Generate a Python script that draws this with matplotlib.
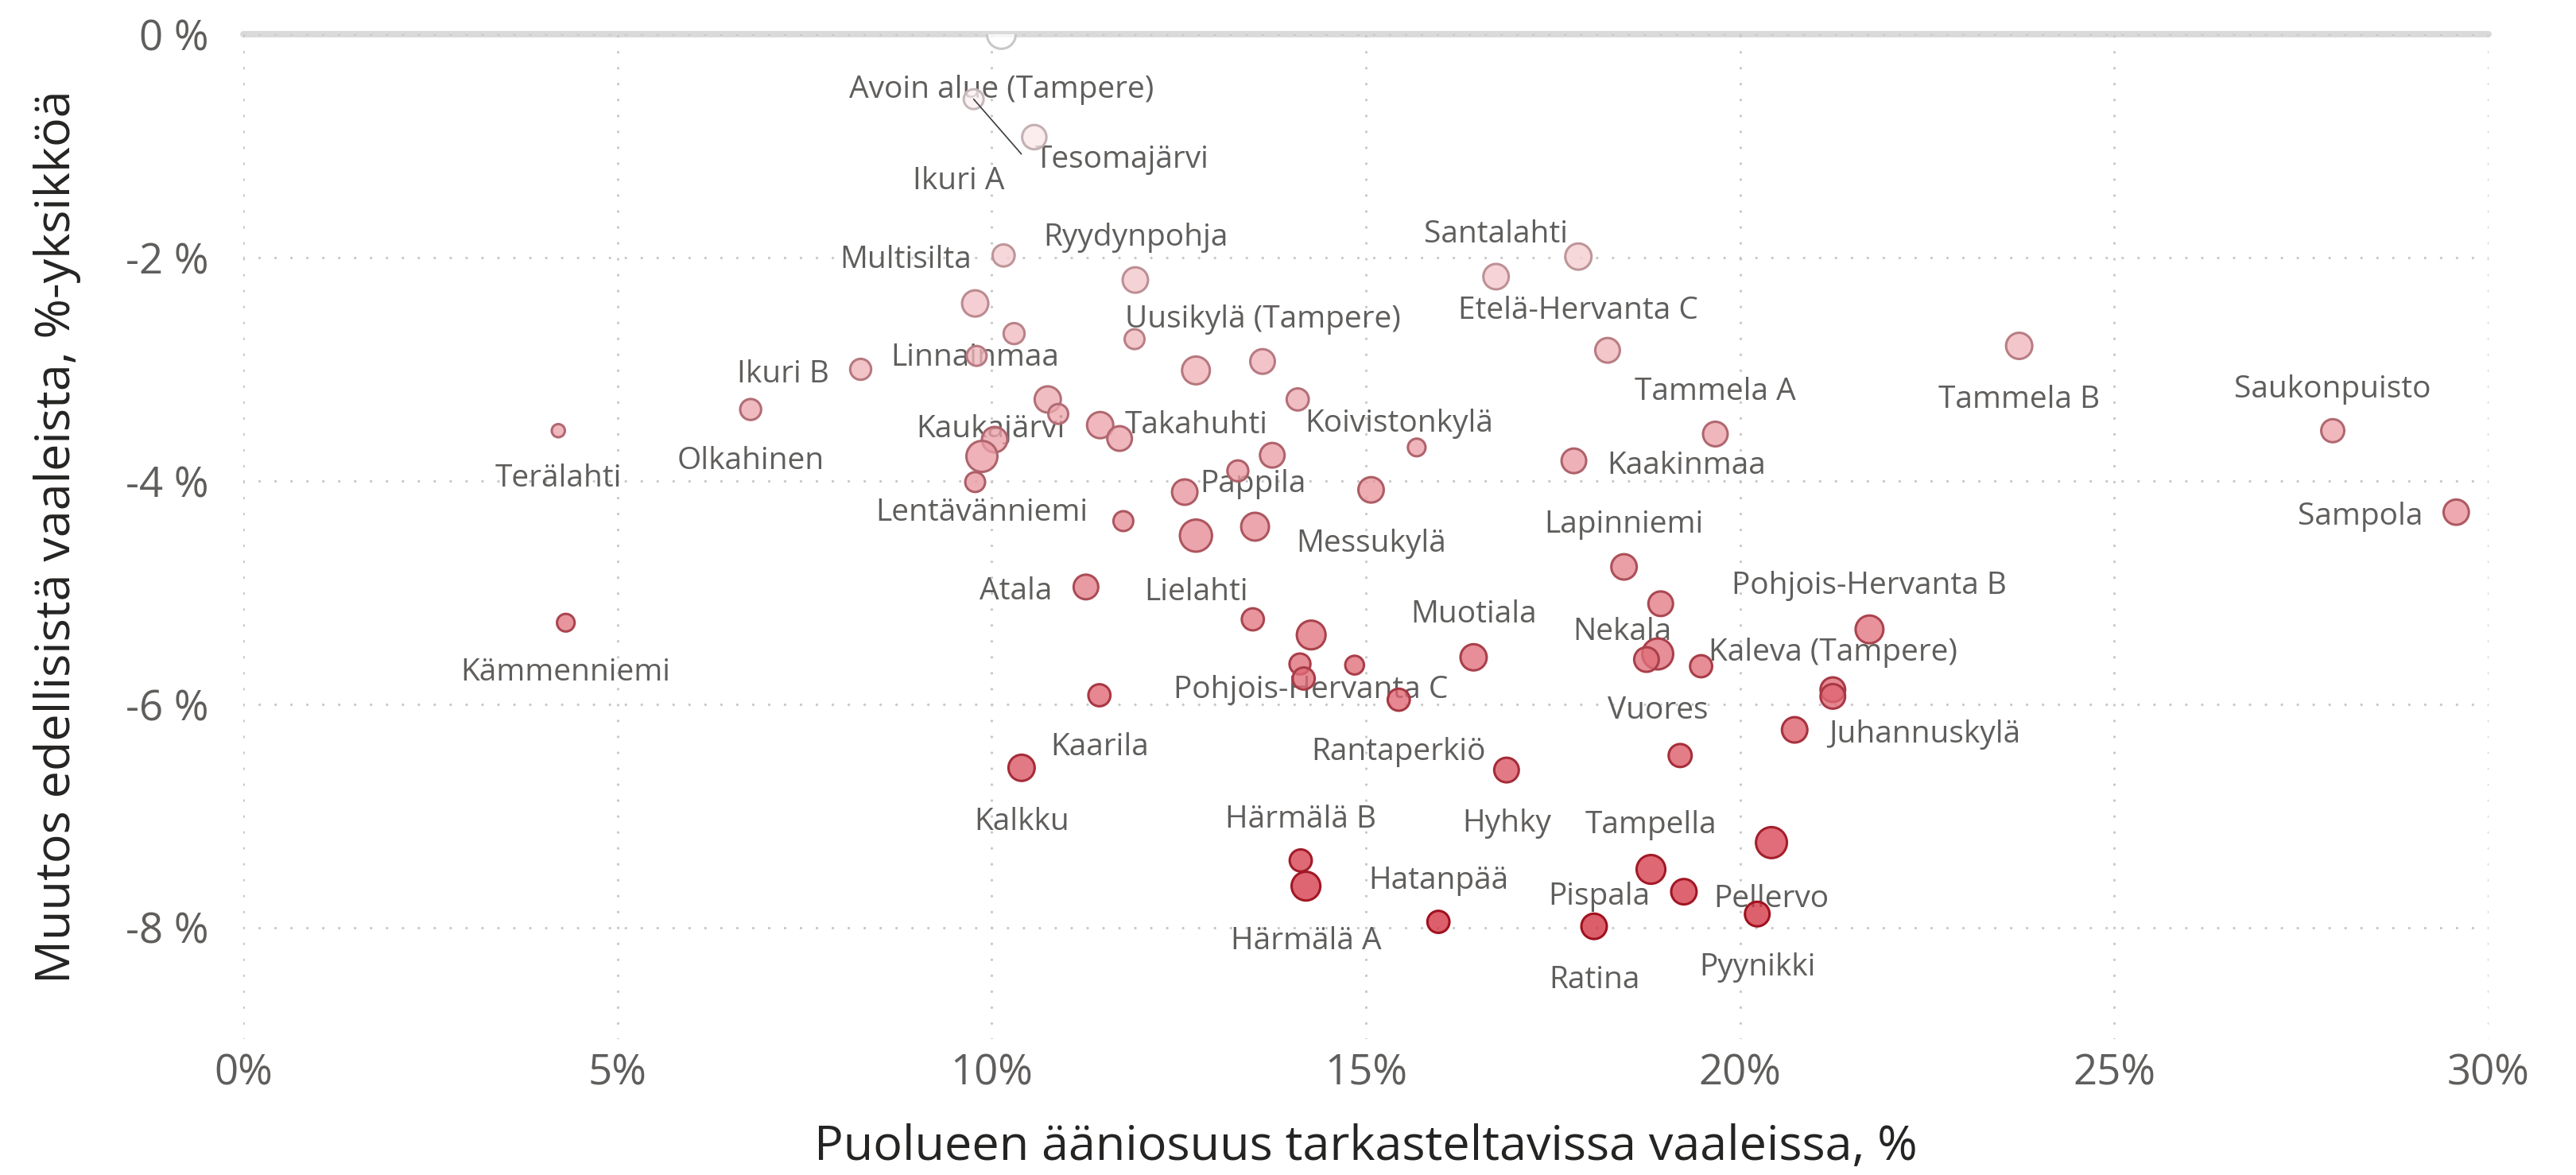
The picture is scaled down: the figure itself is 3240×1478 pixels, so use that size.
import numpy as np
import matplotlib
matplotlib.use("Agg")
import matplotlib.pyplot as plt
from matplotlib.colors import LinearSegmentedColormap, to_rgb

plt.rcParams['font.family'] = ['Open Sans', 'DejaVu Sans']
plt.rcParams['lines.scale_dashes'] = False

# aanestysalueet (tyhja = nimea ei nayteta)
alueet = [
    "Avoin alue (Tampere)", "Ikuri A", "Tesomajärvi", "Multisilta", "Linnainmaa",
    "", "", "Ikuri B", "Olkahinen", "Terälahti",
    "", "", "Kaukajärvi", "Lentävänniemi", "",
    "Ryydynpohja", "Santalahti", "Etelä-Hervanta C", "", "Takahuhti",
    "Uusikylä (Tampere)", "", "", "", "",
    "Koivistonkylä", "Tammela A", "Kaakinmaa", "", "",
    "Pappila", "Messukylä", "", "Lielahti", "",
    "Tammela B", "Saukonpuisto", "Sampola", "Lapinniemi", "Atala",
    "", "Pohjois-Hervanta B", "", "Pohjois-Hervanta C", "Muotiala",
    "", "", "", "Rantaperkiö", "Vuores",
    "Nekala", "", "Kaleva (Tampere)", "", "Juhannuskylä",
    "Kaarila", "", "Hyhky", "Kalkku", "Kämmenniemi",
    "Härmälä B", "Härmälä A", "Hatanpää", "Ratina", "Tampella",
    "Pispala", "Pyynikki", "Pellervo",
]

# puolueen aaniosuus, %
aaniosuus = [
    10.13, 9.76, 10.57, 10.16, 9.78,
    10.30, 9.80, 8.25, 6.78, 4.21,
    10.75, 10.89, 10.04, 9.87, 9.78,
    11.92, 16.74, 17.84, 11.91, 12.73,
    13.62, 18.23, 11.45, 11.71, 14.09,
    15.68, 19.67, 17.78, 13.75, 13.29,
    12.58, 15.07, 11.76, 12.73, 13.52,
    23.73, 27.92, 29.57, 18.45, 11.26,
    18.94, 21.73, 13.49, 14.27, 16.44,
    14.12, 14.17, 14.85, 15.44, 18.90,
    18.75, 19.48, 21.24, 21.24, 20.73,
    11.44, 19.20, 16.88, 10.40, 4.31,
    14.13, 14.20, 15.97, 18.05, 18.81,
    19.25, 20.23, 20.42,
]

# muutos edellisista vaaleista, %-yksikkoa
muutos = [
    0.00, -0.58, -0.92, -1.98, -2.41,
    -2.68, -2.88, -3.00, -3.36, -3.55,
    -3.27, -3.40, -3.63, -3.78, -4.01,
    -2.20, -2.17, -1.99, -2.73, -3.01,
    -2.93, -2.83, -3.50, -3.62, -3.27,
    -3.70, -3.58, -3.82, -3.77, -3.91,
    -4.10, -4.08, -4.36, -4.49, -4.41,
    -2.79, -3.55, -4.28, -4.77, -4.95,
    -5.10, -5.33, -5.24, -5.38, -5.58,
    -5.64, -5.77, -5.65, -5.96, -5.55,
    -5.60, -5.66, -5.87, -5.93, -6.23,
    -5.92, -6.46, -6.59, -6.57, -5.27,
    -7.40, -7.63, -7.95, -7.99, -7.48,
    -7.68, -7.88, -7.24,
]

# kuplan koko (suhteellinen)
koko = [
    384, 196, 282, 237, 324,
    216, 196, 216, 216, 96,
    324, 196, 306, 441, 196,
    306, 306, 324, 196, 361,
    289, 289, 324, 289, 237,
    159, 289, 289, 289, 216,
    306, 306, 196, 471, 361,
    324, 256, 303, 306, 289,
    289, 361, 237, 384, 324,
    216, 237, 177, 237, 441,
    289, 237, 289, 289, 306,
    237, 256, 289, 324, 159,
    237, 384, 237, 306, 384,
    306, 289, 441,
]

x_ticks = [0, 5, 10, 15, 20, 25, 30]
x_tick_labels = ["0%", "5%", "10%", "15%", "20%", "25%", "30%"]
y_ticks = [0, -2, -4, -6, -8]
y_tick_labels = ["0 %", "-2 %", "-4 %", "-6 %", "-8 %"]

# nimien sijoitus: yla / ala / vasen / oikea tai (dx, dy, ha) pikseleina
sijoitus = {
    "Avoin alue (Tampere)": "ala", "Ikuri A": (-19, 100, "center"),
    "Tesomajärvi": (1, 26, "left"), "Multisilta": "vasen", "Linnainmaa": "ala",
    "Ikuri B": "vasen", "Olkahinen": "ala", "Terälahti": "ala",
    "Kaukajärvi": (-5, -16, "center"), "Lentävänniemi": "ala",
    "Ryydynpohja": "yla", "Santalahti": "yla", "Etelä-Hervanta C": "ala",
    "Takahuhti": "ala", "Uusikylä (Tampere)": "yla",
    "Koivistonkylä": (-22, -33, "center"), "Tammela A": "yla",
    "Kaakinmaa": "oikea", "Pappila": (19, -13, "left"), "Messukylä": "ala",
    "Lielahti": "ala", "Tammela B": "ala", "Saukonpuisto": "yla",
    "Sampola": "vasen", "Lapinniemi": "yla", "Atala": "vasen",
    "Pohjois-Hervanta B": "yla", "Pohjois-Hervanta C": "ala", "Muotiala": "yla",
    "Rantaperkiö": "ala", "Vuores": "ala", "Nekala": (-31, -38, "center"),
    "Kaleva (Tampere)": (0, -50, "center"), "Juhannuskylä": "oikea",
    "Kaarila": "ala", "Hyhky": "ala", "Kalkku": "ala", "Kämmenniemi": "ala",
    "Härmälä B": "yla", "Härmälä A": "ala", "Hatanpää": "yla", "Ratina": "ala",
    "Tampella": "yla", "Pispala": "vasen", "Pyynikki": "ala", "Pellervo": "ala",
}

px = 72 / 200  # yksi kuvan pikseli pisteina
reuna_lw = 1.1

x = np.array(aaniosuus)
y = np.array(muutos)
r = np.sqrt(np.array(koko))
t = np.clip(-y / 8, 0, 1)

# taytto: valkoisesta punaiseen, laskettu puoliksi lapinakyvaksi
alpha = 0.78
valk = np.array([1.0, 1.0, 1.0])
puna = np.array(to_rgb("#dd5e6b"))
eff = valk[None, :] * (1 - t[:, None]) + puna[None, :] * t[:, None]
rgb = np.clip((eff - (1 - alpha)) / alpha, 0, 1)
taytto = np.column_stack([rgb, np.full(len(x), alpha)])

reuna_cmap = LinearSegmentedColormap.from_list(
    "reuna", [(0, "#c8c8c8"), (0.3, "#bc8a8f"), (0.45, "#b0666e"), (1, "#a0101e")])
reunat = reuna_cmap(t)

fig = plt.figure(figsize=(16.205, 7.39), dpi=200)
ax = fig.add_axes([0.0944, 0.1157, 0.8713, 0.855])
ax.set_xlim(0, 30)
ax.set_ylim(-9, 0)
for s in ax.spines.values():
    s.set_visible(False)

ax.set_axisbelow(True)
ax.grid(True, color="#c8c8c8", linewidth=1.2, linestyle=(0, (0.01, 7.2)),
        dash_capstyle="round")
ax.axhline(0, color="#dadada", linewidth=2.9, solid_capstyle="round",
           zorder=0.4, clip_on=False)

ax.set_xticks(x_ticks)
ax.set_xticklabels(x_tick_labels)
ax.set_yticks(y_ticks)
ax.set_yticklabels(y_tick_labels)
ax.tick_params(axis="both", length=0, labelsize=19, labelcolor="#605E5C")
ax.tick_params(axis="y", pad=15.8)
ax.tick_params(axis="x", pad=6)

koot = (0.72 * r - reuna_lw) ** 2
ax.scatter(x, y, s=koot, facecolors=taytto, edgecolors=reunat,
           linewidths=reuna_lw, zorder=3)

for i, nimi in enumerate(alueet):
    if not nimi:
        continue
    tapa = sijoitus.get(nimi, "ala")
    if tapa == "yla":
        dx, dy, ha = 0, -(r[i] + 39), "center"
    elif tapa == "ala":
        dx, dy, ha = 0, r[i] + 47, "center"
    elif tapa == "vasen":
        dx, dy, ha = -(r[i] + 25), 3, "right"
    elif tapa == "oikea":
        dx, dy, ha = r[i] + 25, 3, "left"
    else:
        dx, dy, ha = tapa
    ax.annotate(nimi, (x[i], y[i]), xytext=(dx * px, -(dy + 13) * px),
                textcoords="offset points", ha=ha, va="baseline",
                fontsize=14, color="#605E5C", zorder=2)

# viiva Ikuri A -pisteesta
i = alueet.index("Ikuri A")
ax.annotate("", xy=(x[i], y[i]), xytext=(60 * px, -69 * px),
            textcoords="offset points",
            arrowprops=dict(arrowstyle="-", color="#3c3c3c", lw=0.6,
                            shrinkA=0, shrinkB=0), zorder=4)

ax.text(0.5, -0.1076, "Puolueen ääniosuus tarkasteltavissa vaaleissa, %",
        transform=ax.transAxes, ha="center", va="center", fontsize=22,
        color="#252423")
ax.text(-0.0829, 0.5, "Muutos edellisistä vaaleista, %-yksikköä",
        transform=ax.transAxes, ha="center", va="center", rotation=90,
        fontsize=22, color="#252423")

fig.savefig("out.png", dpi=200)
